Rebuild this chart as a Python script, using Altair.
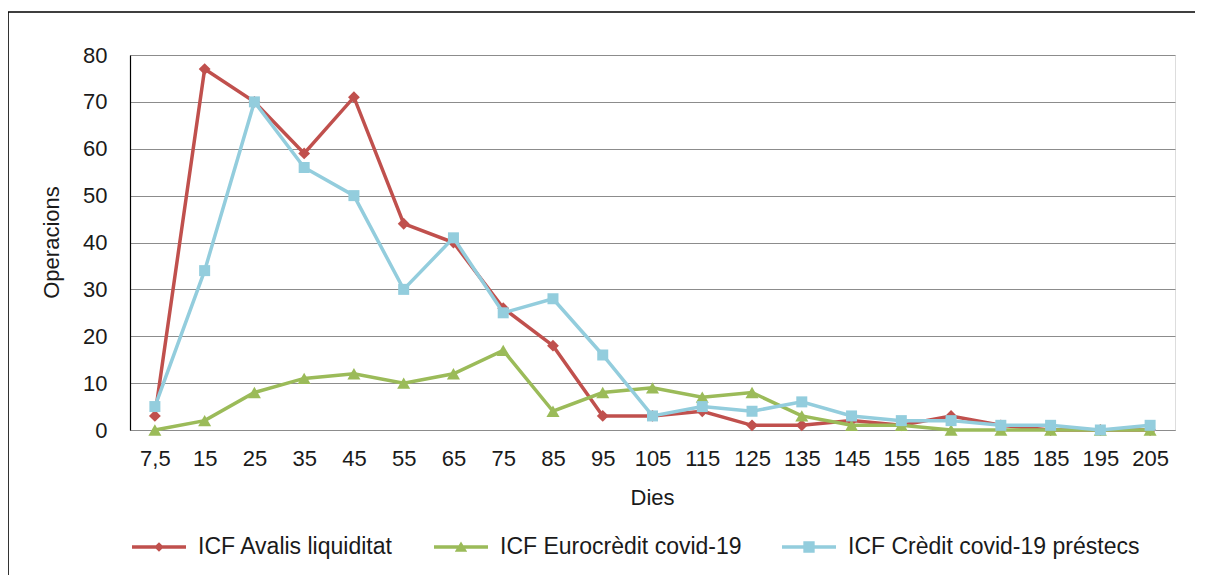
import altair as alt
import pandas as pd

# ---- data ----
dies_labels = ["7,5", "15", "25", "35", "45", "55", "65", "75", "85", "95", "105",
               "115", "125", "135", "145", "155", "165", "185", "185", "195", "205"]
series = ["ICF Avalis liquiditat", "ICF Eurocrèdit covid-19", "ICF Crèdit covid-19 préstecs"]
avalis = [3, 77, 70, 59, 71, 44, 40, 26, 18, 3, 3, 4, 1, 1, 2, 1, 3, 1, 0, 0, 0]
eurocredit = [0, 2, 8, 11, 12, 10, 12, 17, 4, 8, 9, 7, 8, 3, 1, 1, 0, 0, 0, 0, 0]
credit = [5, 34, 70, 56, 50, 30, 41, 25, 28, 16, 3, 5, 4, 6, 3, 2, 2, 1, 1, 0, 1]
colors = ["#C0504D", "#9BBB59", "#93CDDD"]
shapes = ["diamond", "triangle-up", "square"]
sizes = [140, 170, 121]

rows = []
for s, vals in zip(series, [avalis, eurocredit, credit]):
    for i, v in enumerate(vals):
        rows.append({"idx": i, "dies": dies_labels[i], "serie": s, "val": v})
df = pd.DataFrame(rows)

label_expr = "[" + ",".join("'" + l + "'" for l in dies_labels) + "][datum.value]"

FONT = "Liberation Sans"
FS = 22

x_enc = alt.X("idx:O", sort=list(range(len(dies_labels))),
              axis=alt.Axis(labelExpr=label_expr, labelAngle=0, ticks=False,
                            labelPadding=18, labelFont=FONT, labelFontSize=FS,
                            labelColor="#1a1a1a", domainColor="#8c8c8c", domainWidth=1.2,
                            title="Dies", titleFont=FONT, titleFontSize=FS,
                            titleFontWeight="normal", titleColor="#1a1a1a",
                            titleX=522, titleY=67, titleBaseline="middle"))
y_enc = alt.Y("val:Q", scale=alt.Scale(domain=[0, 80], nice=False),
              axis=alt.Axis(values=list(range(0, 81, 10)), ticks=False,
                            labelPadding=23, labelFont=FONT, labelFontSize=FS,
                            labelColor="#1a1a1a", domainColor="#000000", domainWidth=1.2,
                            gridColor="#8c8c8c", gridWidth=1.2,
                            title="Operacions", titleFont=FONT, titleFontSize=FS,
                            titleFontWeight="normal", titleColor="#1a1a1a",
                            titleX=-79, titleY=187, titleAngle=-90, titleBaseline="middle",
                            titleAlign="center"))
color_scale = alt.Scale(domain=series, range=colors)

base = alt.Chart(df)

# legend symbols: line + marker (unit-box paths)
line_p = "M-1,-0.065L1,-0.065L1,0.065L-1,0.065Z"
leg_paths = [
    line_p + "M0,-0.18L0.18,0L0,0.18L-0.18,0Z",
    line_p + "M0,-0.2L0.23,0.18L-0.23,0.18Z",
    line_p + "M-0.21,-0.21L0.21,-0.21L0.21,0.21L-0.21,0.21Z",
]
leg = alt.Legend(title=None, orient="none", legendX=2, legendY=465,
                 direction="horizontal", columns=3, columnPadding=40,
                 symbolSize=2916, symbolStrokeWidth=0, symbolOpacity=1,
                 labelOffset=12, labelFont=FONT, labelFontSize=23,
                 labelColor="#1a1a1a", labelLimit=500)
legend_layer = base.mark_point(filled=True).encode(
    x=x_enc, y=y_enc,
    opacity=alt.value(0),
    color=alt.Color("serie:N", scale=color_scale, legend=leg),
    shape=alt.Shape("serie:N", scale=alt.Scale(domain=series, range=leg_paths), legend=leg),
)

layers = []
for s, shp, sz in zip(series, shapes, sizes):
    sub = base.transform_filter(alt.datum.serie == s)
    layers.append(sub.mark_line(strokeWidth=3.5).encode(
        x=x_enc, y=y_enc, color=alt.Color("serie:N", scale=color_scale, legend=None)))
    layers.append(sub.mark_point(shape=shp, filled=True, size=sz, opacity=1).encode(
        x=x_enc, y=y_enc, color=alt.Color("serie:N", scale=color_scale, legend=None)))

frame = alt.Chart(pd.DataFrame({"a": [0]})).mark_rect(
    fill=None, stroke="#000000", strokeWidth=1.6).encode(
    x=alt.value(-122), x2=alt.value(1100), y=alt.value(-43), y2=alt.value(600))

chart = alt.layer(frame, legend_layer, *layers).properties(
    width=1045, height=375,
    autosize=alt.AutoSizeParams(type="none"),
    padding={"left": 122, "top": 47, "right": 20, "bottom": 145},
).configure_view(stroke="#a6a6a6", strokeWidth=1.2).configure(background="white")

chart.save("out.html", embed_options={"renderer": "svg", "actions": False})
